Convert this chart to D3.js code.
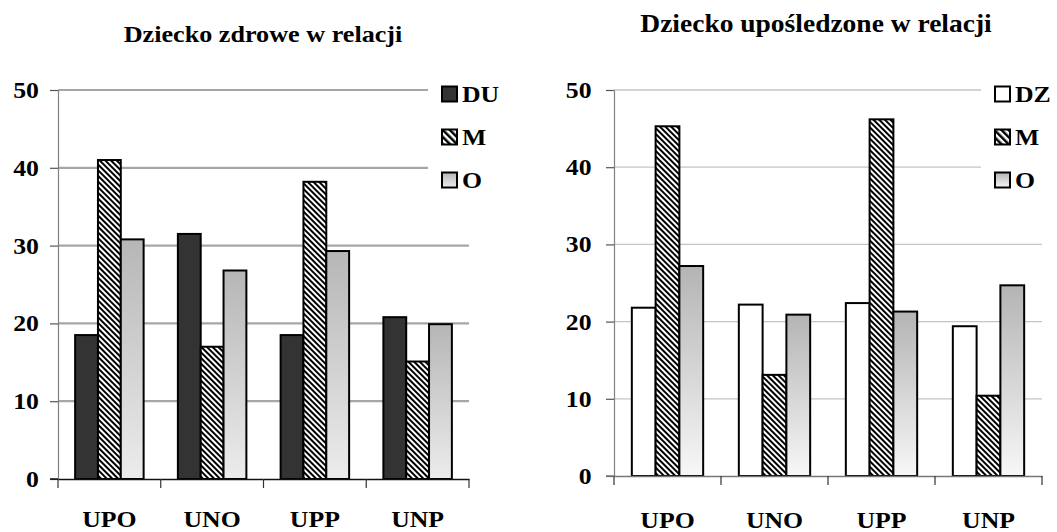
<!DOCTYPE html>
<html>
<head>
<meta charset="utf-8">
<script src="https://cdn.jsdelivr.net/npm/d3@7"></script>
<style>
  html, body { margin: 0; padding: 0; background: #fff; }
  svg { display: block; }
  text { font-family: "Liberation Serif", "Times New Roman", serif; font-weight: bold; fill: #000; }
</style>
</head>
<body>
<svg id="chart" width="1057" height="532"></svg>
<script>
// Relationship categories on the x axis
const categories = ["UPO", "UNO", "UPP", "UNP"];
const yTicks = [0, 10, 20, 30, 40, 50];

// Left panel: healthy child
const leftTitle = "Dziecko zdrowe w relacji";
const leftSeries = ["DU", "M", "O"];
const leftDU = [18.5, 31.5, 18.5, 20.8];
const leftM  = [41.0, 17.0, 38.2, 15.1];
const leftO  = [30.8, 26.8, 29.3, 19.9];

// Right panel: disabled child
const rightTitle = "Dziecko upośledzone w relacji";
const rightSeries = ["DZ", "M", "O"];
const rightDZ = [21.8, 22.2, 22.4, 19.4];
const rightM  = [45.3, 13.1, 46.2, 10.4];
const rightO  = [27.2, 20.9, 21.3, 24.7];

const svg = d3.select("#chart");
const defs = svg.append("defs");

// Diagonal hatch used for the "M" series
function hatch(id, period, stroke) {
  const p = defs.append("pattern")
    .attr("id", id)
    .attr("patternUnits", "userSpaceOnUse")
    .attr("width", period).attr("height", period)
    .attr("patternTransform", "rotate(-45)");
  p.append("rect").attr("width", period).attr("height", period).attr("fill", "#fff");
  p.append("rect").attr("x", 0).attr("y", 0).attr("width", stroke).attr("height", period).attr("fill", "#000");
}
hatch("hatchBar", 4, 2);
hatch("hatchKey", 5, 2.5);

// Vertical grey fade used for the "O" series
function fade(id, top, bottom) {
  const g = defs.append("linearGradient").attr("id", id)
    .attr("x1", 0).attr("y1", 0).attr("x2", 0).attr("y2", 1);
  g.append("stop").attr("offset", 0).attr("stop-color", top);
  g.append("stop").attr("offset", 1).attr("stop-color", bottom);
}
fade("fadeLeft", "#b6b6b6", "#ececec");
fade("fadeRight", "#b4b4b4", "#f7f7f7");

// Stretched serif text helper
function label(parent, x, y, str, size, sx, anchor) {
  return parent.append("text")
    .attr("transform", `translate(${x},${y}) scale(${sx},1)`)
    .attr("text-anchor", anchor || "middle")
    .style("font-size", size + "px")
    .text(str);
}

function panel(cfg) {
  const g = svg.append("g");
  const x = d3.scaleBand().domain(categories).range([cfg.x0, cfg.x1]).padding(0);
  const inner = d3.scaleBand().domain(cfg.series).range([0, x.bandwidth()])
    .paddingInner(0).paddingOuter(0.75);
  const y = d3.scaleLinear().domain([0, 50]).range([cfg.y0, cfg.y1]);

  // horizontal gridlines
  g.append("g").selectAll("line")
    .data(yTicks.filter(t => t > 0))
    .join("line")
    .attr("x1", cfg.x0).attr("x2", cfg.x1)
    .attr("y1", d => y(d)).attr("y2", d => y(d))
    .attr("stroke", cfg.gridColor).attr("stroke-width", cfg.gridWidth);

  // y axis
  const yAxis = g.append("g")
    .attr("transform", `translate(${cfg.x0},0)`)
    .call(d3.axisLeft(y).tickValues(yTicks).tickSizeInner(8).tickSizeOuter(0).tickPadding(cfg.tickPad));
  yAxis.select(".domain").attr("stroke", "#808080").attr("stroke-width", 1.2);
  yAxis.selectAll(".tick line").attr("stroke", "#555").attr("stroke-width", 1.2);
  yAxis.selectAll(".tick text")
    .attr("font-family", null).attr("font-size", null)
    .style("font-size", "23px")
    .attr("dy", "0.33em")
    .attr("transform", "scale(1.12,1)");

  // bars
  const rows = cfg.values.map((vals, si) => categories.map((c, ci) => ({
    cat: c, key: cfg.series[si], v: vals[ci], fill: cfg.fills[si]
  }))).flat();
  g.append("g").selectAll("rect")
    .data(rows)
    .join("rect")
    .attr("x", d => x(d.cat) + inner(d.key))
    .attr("width", inner.bandwidth())
    .attr("y", d => y(d.v))
    .attr("height", d => y(0) - y(d.v))
    .attr("fill", d => d.fill)
    .attr("stroke", "#000").attr("stroke-width", 2);

  // x axis
  const xAxis = g.append("g")
    .attr("transform", `translate(0,${cfg.y0})`)
    .call(d3.axisBottom(x).tickSize(0).tickFormat(""));
  xAxis.select(".domain").attr("stroke", cfg.axisColor).attr("stroke-width", 1.5);
  const bounds = [cfg.x0].concat(categories.map(c => x(c) + x.bandwidth()));
  g.append("g").selectAll("line")
    .data(bounds)
    .join("line")
    .attr("x1", d => d).attr("x2", d => d)
    .attr("y1", cfg.y0).attr("y2", cfg.y0 + 9)
    .attr("stroke", "#333").attr("stroke-width", 1.2);
  g.append("line")
    .attr("x1", cfg.x0 - 8).attr("x2", cfg.x0)
    .attr("y1", cfg.y0).attr("y2", cfg.y0)
    .attr("stroke", cfg.axisColor).attr("stroke-width", 1.5);

  // category labels
  categories.forEach(c => label(g, x(c) + x.bandwidth() / 2, cfg.labelY, c, 23, 1.12));

  // title
  label(g, cfg.titleX, cfg.titleY, cfg.title, cfg.titleSize, cfg.titleSx);

  // legend
  const lg = g.append("g");
  lg.append("rect")
    .attr("x", cfg.legX - 14).attr("y", 78)
    .attr("width", 1057 - cfg.legX + 14).attr("height", 120)
    .attr("fill", "#fff");
  cfg.series.forEach((s, i) => {
    const cy = 94 + i * 43;
    lg.append("rect")
      .attr("x", cfg.legX).attr("y", cy - 7.5)
      .attr("width", 15).attr("height", 15)
      .attr("fill", cfg.keyFills[i])
      .attr("stroke", "#000").attr("stroke-width", 2);
    label(lg, cfg.legX + 20, cy + 8, s, 23, 1.12, "start");
  });
}

panel({
  title: leftTitle, titleX: 263, titleY: 42, titleSize: 24, titleSx: 1.09,
  series: leftSeries,
  values: [leftDU, leftM, leftO],
  fills: ["#333333", "url(#hatchBar)", "url(#fadeLeft)"],
  keyFills: ["#333333", "url(#hatchKey)", "url(#fadeLeft)"],
  x0: 58, x1: 469, y0: 479, y1: 90,
  gridColor: "#a6a6a6", gridWidth: 2.2, axisColor: "#111",
  tickPad: 9, labelY: 527, legX: 442
});

panel({
  title: rightTitle, titleX: 816, titleY: 32, titleSize: 25, titleSx: 1.1,
  series: rightSeries,
  values: [rightDZ, rightM, rightO],
  fills: ["#ffffff", "url(#hatchBar)", "url(#fadeRight)"],
  keyFills: ["#ffffff", "url(#hatchKey)", "url(#fadeRight)"],
  x0: 614, x1: 1042, y0: 476, y1: 90,
  gridColor: "#c4c4c4", gridWidth: 1.3, axisColor: "#777",
  tickPad: 12, labelY: 528, legX: 995
});
</script>
</body>
</html>
